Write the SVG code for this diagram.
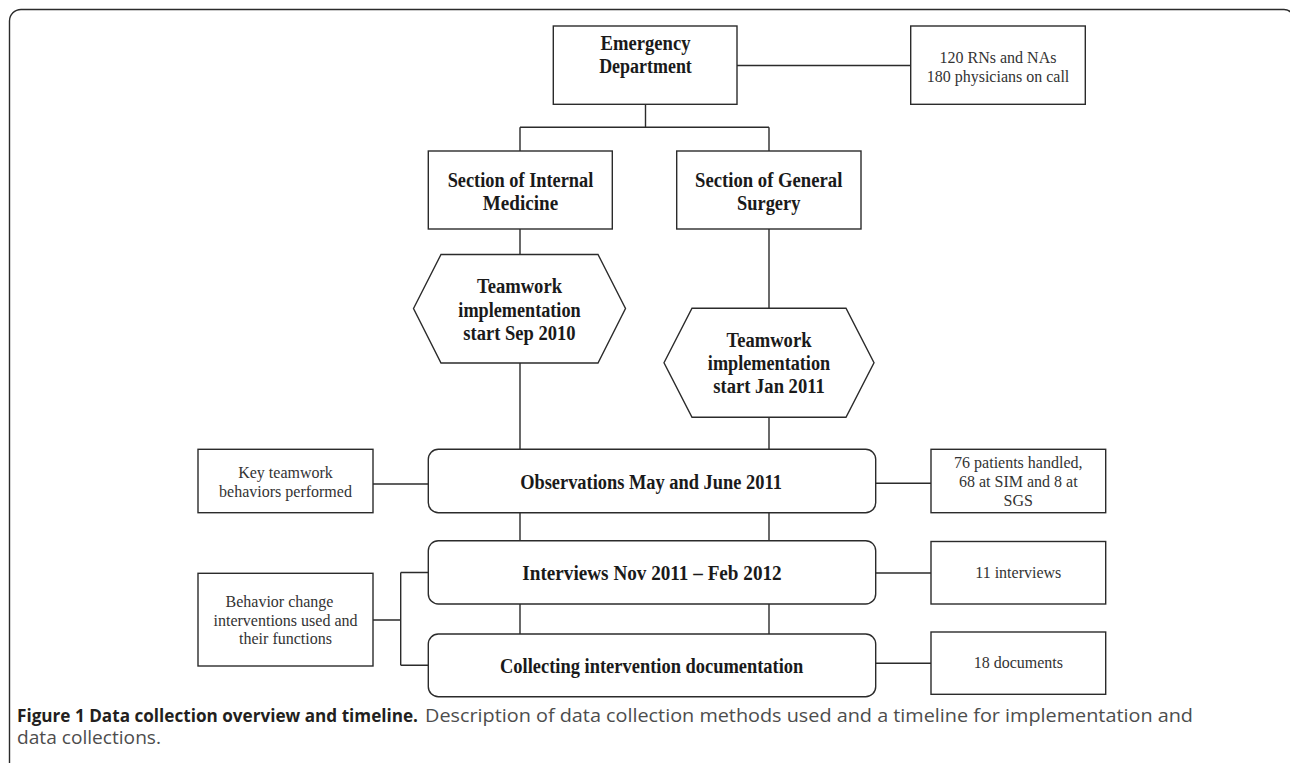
<svg xmlns="http://www.w3.org/2000/svg" width="1290" height="763" viewBox="0 0 1290 763">
<style>
.box{fill:#fff;stroke:#2b2b2b;stroke-width:1.4}
.rbox{fill:#fff;stroke:#2b2b2b;stroke-width:1.4}
.ln{stroke:#2b2b2b;stroke-width:1.4;fill:none}
.b{font-family:"Liberation Serif","Times New Roman",serif;font-weight:bold;font-size:20.5px;fill:#1a1a1a;text-anchor:middle}
.n{font-family:"Liberation Serif","Times New Roman",serif;font-size:16px;fill:#333;text-anchor:middle}
.cb{font-family:"Open Sans","Liberation Sans",sans-serif;font-weight:bold;font-size:17.5px;fill:#231f20}
.cn{font-family:"Open Sans","Liberation Sans",sans-serif;font-size:17.5px;fill:#4d4d4d}
</style>
<rect width="1290" height="763" fill="#fff"/>
<path class="ln" d="M9.5,763 V21 A11.5,11.5 0 0 1 21,9.5 H1284 A10,10 0 0 1 1294,19.5" stroke="#333" stroke-width="2"/>
<g id="connectors" class="ln">
<path d="M645.5,104.3 V127.3 M520,127.3 H769 M520,127.3 V151 M769,127.3 V151"/>
<path d="M737,65.5 H910.7"/>
<path d="M520,229 V254.5 M520,363 V449.3"/>
<path d="M769,229 V308.3 M769,417.3 V449.3"/>
<path d="M520,512.7 V540.7 M769,512.7 V540.7 M520,604 V634 M769,604 V634"/>
<path d="M373,484 H428.3"/>
<path d="M875.7,483.3 H931"/>
<path d="M373,620 H400.7 M400.7,572.5 V665.3 M400.7,572.5 H428.3 M400.7,665.3 H428.3"/>
<path d="M875.7,573 H931"/>
<path d="M875.7,663.3 H931"/>
</g>
<g id="emergency">
<rect class="box" x="553.3" y="26" width="183.7" height="78.3"/>
<text class="b" x="645.5" y="50" textLength="90" lengthAdjust="spacingAndGlyphs">Emergency</text>
<text class="b" x="645.5" y="73.3" textLength="92.7" lengthAdjust="spacingAndGlyphs">Department</text>
</g>
<g id="staff">
<rect class="box" x="910.7" y="26" width="174.6" height="78.3"/>
<text class="n" x="998" y="62.7">120 RNs and NAs</text>
<text class="n" x="998" y="81.7">180 physicians on call</text>
</g>
<g id="internal-medicine">
<rect class="box" x="428.3" y="151" width="184" height="78"/>
<text class="b" x="520.5" y="186.7" textLength="145.7" lengthAdjust="spacingAndGlyphs">Section of Internal</text>
<text class="b" x="520.5" y="210" textLength="75.3" lengthAdjust="spacingAndGlyphs">Medicine</text>
</g>
<g id="general-surgery">
<rect class="box" x="676.7" y="151" width="184.3" height="78"/>
<text class="b" x="768.7" y="186.7" textLength="147.3" lengthAdjust="spacingAndGlyphs">Section of General</text>
<text class="b" x="768.7" y="210" textLength="63.4" lengthAdjust="spacingAndGlyphs">Surgery</text>
</g>
<g id="teamwork-sep-2010">
<polygon class="box" points="413.5,308.5 441,254.5 598,254.5 625.5,308.5 598,363 441,363"/>
<text class="b" x="519.5" y="293.3" textLength="85" lengthAdjust="spacingAndGlyphs">Teamwork</text>
<text class="b" x="519.5" y="316.5" textLength="122.3" lengthAdjust="spacingAndGlyphs">implementation</text>
<text class="b" x="519.5" y="339.5" textLength="112.3" lengthAdjust="spacingAndGlyphs">start Sep 2010</text>
</g>
<g id="teamwork-jan-2011">
<polygon class="box" points="664,362.8 692,308.3 846,308.3 874,362.8 846,417.3 692,417.3"/>
<text class="b" x="769" y="346.7" textLength="85" lengthAdjust="spacingAndGlyphs">Teamwork</text>
<text class="b" x="769" y="370" textLength="122.3" lengthAdjust="spacingAndGlyphs">implementation</text>
<text class="b" x="769" y="393.3" textLength="111.5" lengthAdjust="spacingAndGlyphs">start Jan 2011</text>
</g>
<g id="key-behaviors">
<rect class="box" x="198" y="449.3" width="175" height="63.4"/>
<text class="n" x="285.5" y="478.3">Key teamwork</text>
<text class="n" x="285.5" y="497.3">behaviors performed</text>
</g>
<g id="behavior-change">
<rect class="box" x="198" y="573.3" width="175" height="92.7"/>
<text class="n" x="279.5" y="606.7">Behavior change</text>
<text class="n" x="285.5" y="625.5">interventions used and</text>
<text class="n" x="285.5" y="644.3">their functions</text>
</g>
<g id="observations">
<rect class="rbox" x="428.3" y="449.3" width="447.4" height="63.4" rx="10" ry="10"/>
<text class="b" x="651" y="489.3" textLength="261.7" lengthAdjust="spacingAndGlyphs">Observations May and June 2011</text>
</g>
<g id="interviews">
<rect class="rbox" x="428.3" y="540.7" width="447.4" height="63.3" rx="10" ry="10"/>
<text class="b" x="652" y="580" textLength="259.3" lengthAdjust="spacingAndGlyphs">Interviews Nov 2011 – Feb 2012</text>
</g>
<g id="collecting">
<rect class="rbox" x="428.3" y="634" width="447.4" height="62.7" rx="10" ry="10"/>
<text class="b" x="651.7" y="673.3" textLength="303.3" lengthAdjust="spacingAndGlyphs">Collecting intervention documentation</text>
</g>
<g id="patients">
<rect class="box" x="931" y="449.3" width="174.7" height="63.4"/>
<text class="n" x="1018.3" y="468.3">76 patients handled,</text>
<text class="n" x="1018.3" y="487.3">68 at SIM and 8 at</text>
<text class="n" x="1018.3" y="506">SGS</text>
</g>
<g id="interview-count">
<rect class="box" x="931" y="541.5" width="174.7" height="62.5"/>
<text class="n" x="1018.3" y="578.3">11 interviews</text>
</g>
<g id="documents">
<rect class="box" x="931" y="632" width="174.7" height="62.3"/>
<text class="n" x="1018.3" y="668.3">18 documents</text>
</g>
<g id="caption">
<text class="cb" x="17" y="721.5" textLength="401" lengthAdjust="spacingAndGlyphs">Figure 1 Data collection overview and timeline.</text>
<text class="cn" x="425" y="721.5" textLength="768" lengthAdjust="spacingAndGlyphs">Description of data collection methods used and a timeline for implementation and</text>
<text class="cn" x="17" y="744" textLength="144" lengthAdjust="spacingAndGlyphs">data collections.</text>
</g>
</svg>
